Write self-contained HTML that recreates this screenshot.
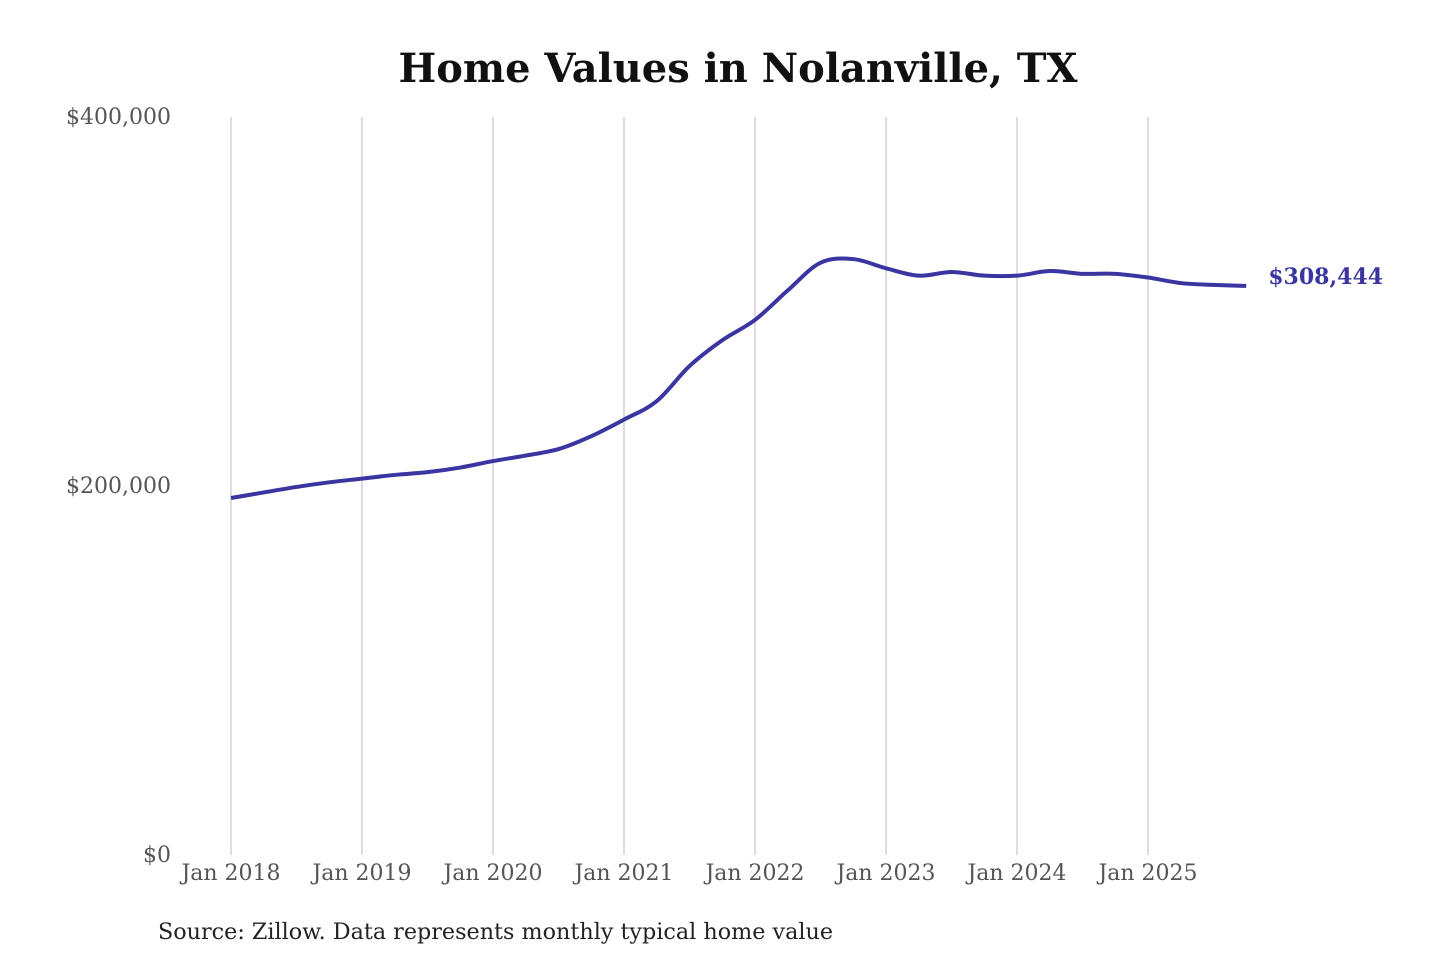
<!DOCTYPE html>
<html><head><meta charset="utf-8"><style>
html,body{margin:0;padding:0;background:#fff;width:1440px;height:960px;overflow:hidden}
svg text{font-family:"DejaVu Serif","Liberation Serif",serif}
</style></head><body>
<svg id="chart" width="1440" height="960" viewBox="0 0 1440 960">
<text x="738" y="82" text-anchor="middle" font-size="40" font-weight="bold" fill="#111" textLength="679" lengthAdjust="spacingAndGlyphs">Home Values in Nolanville, TX</text>
<g id="grid"></g><g id="yaxis"></g><g id="xaxis"></g><g id="series"></g>
<text x="158" y="939" font-size="22" fill="#222" textLength="675" lengthAdjust="spacingAndGlyphs">Source: Zillow. Data represents monthly typical home value</text>
</svg>
<script>
const months=[0,3,6,9,12,15,18,21,24,27,30,33,36,39,42,45,48,51,54,57,60,63,66,69,72,75,78,81,84,87,90,93];
const values=[193500,196500,199500,202000,204000,206000,207500,210000,213500,216500,220000,227000,236000,246000,265000,279000,290000,306000,321000,323000,318000,314000,316000,314000,314000,316500,315000,315000,313000,310000,309000,308444];
const yTicks=[0,200000,400000];
const yTickLabels=["$0","$200,000","$400,000"];
const xTickYears=[2018,2019,2020,2021,2022,2023,2024,2025];
const lastLabel="$308,444";
const NS="http://www.w3.org/2000/svg";
const x=m=>231+m*(131/12);
const y=v=>855-v/400000*738;
function mk(t,a,p){const e=document.createElementNS(NS,t);for(const k in a)e.setAttribute(k,a[k]);p.appendChild(e);return e;}
const grid=document.getElementById('grid'),ya=document.getElementById('yaxis'),xa=document.getElementById('xaxis'),se=document.getElementById('series');
xTickYears.forEach((yr,i)=>{
 const gx=x((yr-2018)*12);
 const l=mk('line',{x1:gx,x2:gx,y1:117,y2:855,stroke:'#c8c8c8','stroke-width':1.2},grid);
 
 
 const t=mk('text',{x:gx,y:880,'text-anchor':'middle','font-size':22,fill:'#555'},xa);
 t.textContent='Jan '+yr;
 
 
});
yTicks.forEach((v,i)=>{
 const t=mk('text',{x:171,y:y(v)+7,'text-anchor':'end','font-size':22,fill:'#555'},ya);
 t.textContent=yTickLabels[i];
 
 
});
const pts=months.map((m,i)=>[x(m),y(values[i])]);
let d='M'+pts[0][0]+','+pts[0][1];
for(let i=0;i<pts.length-1;i++){
 const p0=pts[Math.max(0,i-1)],p1=pts[i],p2=pts[i+1],p3=pts[Math.min(pts.length-1,i+2)];
 const c1=[p1[0]+(p2[0]-p0[0])/6,p1[1]+(p2[1]-p0[1])/6],c2=[p2[0]-(p3[0]-p1[0])/6,p2[1]-(p3[1]-p1[1])/6];
 d+=' C'+c1+' '+c2+' '+p2;
}
const path=mk('path',{d:d,fill:'none',stroke:'#3a35a0','stroke-width':4,'stroke-linejoin':'round'},se);


const lp=pts[pts.length-1];
const lt=mk('text',{x:lp[0]+22,y:lp[1]-2,'font-size':22,'font-weight':'bold',fill:'#3a35a0'},se);
lt.textContent=lastLabel;


</script>
</body></html>
